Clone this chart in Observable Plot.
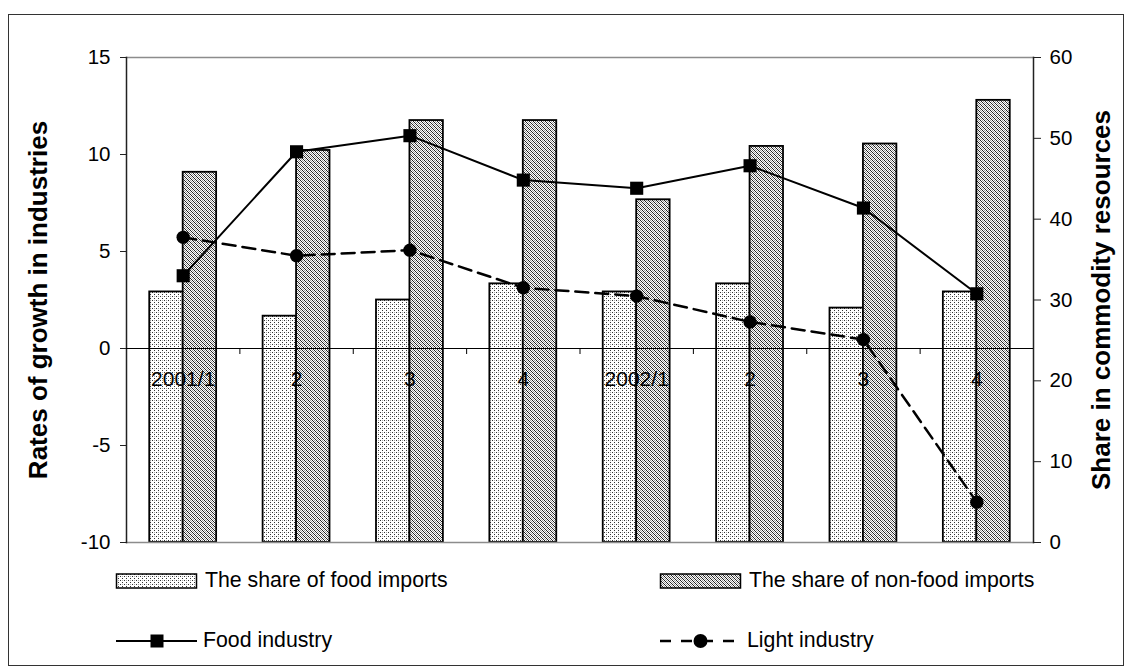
<!DOCTYPE html>
<html>
<head>
<meta charset="utf-8">
<script src="https://cdn.jsdelivr.net/npm/d3@7"></script>
<script src="https://cdn.jsdelivr.net/npm/@observablehq/plot@0.6"></script>
<style>
  body { margin: 0; background: #fff; font-family: "Liberation Sans", Arial, sans-serif; }
  #chart { position: relative; width: 1131px; height: 671px; overflow: hidden; }
  #chart svg { display: block; }
  #border { position: absolute; left: 8px; top: 14px; width: 1116px; height: 652px;
            box-sizing: border-box; border: 1.5px solid #333; pointer-events: none; }
</style>
</head>
<body>
<div id="chart"><div id="border"></div></div>
<script>
// Quarterly data, 2001–2002
const periodKeys = ["2001-Q1", "2001-Q2", "2001-Q3", "2001-Q4", "2002-Q1", "2002-Q2", "2002-Q3", "2002-Q4"];
const periodLabels = ["2001/1", "2", "3", "4", "2002/1", "2", "3", "4"];

// Share in commodity resources, % (right axis)
const foodImportShare = [31.0, 28.0, 30.0, 32.0, 31.0, 32.0, 29.0, 31.0];
const nonFoodImportShare = [45.8, 48.5, 52.2, 52.2, 42.4, 49.0, 49.3, 54.7];

// Rates of growth in industries, % (left axis)
const foodIndustryGrowth = [3.75, 10.14, 10.97, 8.68, 8.26, 9.42, 7.24, 2.82];
const lightIndustryGrowth = [5.73, 4.78, 5.07, 3.13, 2.70, 1.37, 0.46, -7.92];

// Axis ticks
const growthTicks = [-10, -5, 0, 5, 10, 15];
const shareTicks = [0, 10, 20, 30, 40, 50, 60];

const seriesNames = {
  food: "The share of food imports",
  nonFood: "The share of non-food imports",
  foodIndustry: "Food industry",
  lightIndustry: "Light industry"
};
const leftTitle = "Rates of growth in industries";
const rightTitle = "Share in commodity resources";

const rows = periodKeys.map((period, i) => ({
  period,
  label: periodLabels[i],
  food: foodImportShare[i],
  nonFood: nonFoodImportShare[i],
  foodGrowth: foodIndustryGrowth[i],
  lightGrowth: lightIndustryGrowth[i]
}));

// The share axis (0–60) is laid over the growth axis (-10–15)
const shareToGrowth = d3.scaleLinear([0, 60], [-10, 15]);

const width = 1131, height = 560;
const marginLeft = 126, marginRight = 98, marginTop = 57, marginBottom = 18;
const paddingInner = 0.41, paddingOuter = 0.205;
const step = (width - marginLeft - marginRight) / periodKeys.length;
const halfBar = step * (1 - paddingInner) / 2;

function addPatterns(svg, prefix) {
  const defs = svg.insert("defs", ":first-child");
  const dots = defs.append("pattern")
    .attr("id", prefix + "food-dots").attr("patternUnits", "userSpaceOnUse")
    .attr("width", 4).attr("height", 4);
  dots.append("rect").attr("width", 4).attr("height", 4).attr("fill", "#fff");
  for (const [x, y, c] of [[0, 0, "#333"], [2, 2, "#333"], [2, 0, "#aaa"]]) {
    dots.append("rect").attr("x", x).attr("y", y).attr("width", 1).attr("height", 1).attr("fill", c);
  }
  const hatch = defs.append("pattern")
    .attr("id", prefix + "nonfood-hatch").attr("patternUnits", "userSpaceOnUse")
    .attr("width", 4).attr("height", 4);
  hatch.append("rect").attr("width", 4).attr("height", 4).attr("fill", "#fff");
  for (let k = 0; k < 4; k++) {
    hatch.append("rect").attr("x", k).attr("y", k).attr("width", 1).attr("height", 1).attr("fill", "#222");
    hatch.append("rect").attr("x", (k + 2) % 4).attr("y", k).attr("width", 1).attr("height", 1).attr("fill", "#999");
  }
}

// Plain hyphen-minus for negative tick labels
const fmt = d => String(d);

const chart = Plot.plot({
  width, height, marginLeft, marginRight, marginTop, marginBottom,
  style: { fontFamily: "'Liberation Sans', Arial, sans-serif", fontSize: "20px", color: "#000", background: "transparent" },
  x: { domain: periodKeys, paddingInner, paddingOuter, round: false, axis: null },
  y: { domain: [-10, 15], axis: null },
  marks: [
    // bars (share, right axis)
    Plot.barY(rows, {
      x: "period", y1: () => shareToGrowth(0), y2: d => shareToGrowth(d.food),
      insetLeft: 0, insetRight: halfBar,
      fill: "url(#food-dots)", stroke: "#000", strokeWidth: 1.8
    }),
    Plot.barY(rows, {
      x: "period", y1: () => shareToGrowth(0), y2: d => shareToGrowth(d.nonFood),
      insetLeft: halfBar, insetRight: 0,
      fill: "url(#nonfood-hatch)", stroke: "#000", strokeWidth: 1.8
    }),
    // plot area border and axis lines
    Plot.frame({ anchor: "top", stroke: "#8c8c8c", strokeWidth: 1.5 }),
    Plot.frame({ anchor: "bottom", stroke: "#8c8c8c", strokeWidth: 1.5 }),
    Plot.frame({ anchor: "left", stroke: "#222", strokeWidth: 1.5 }),
    Plot.frame({ anchor: "right", stroke: "#222", strokeWidth: 1.5 }),
    // category axis along zero
    Plot.ruleY([0], { stroke: "#000", strokeWidth: 1.2 }),
    Plot.ruleX(rows.slice(1), {
      x: "period", y1: () => 0, y2: () => 0, dx: -step / 2,
      insetTop: 0, insetBottom: -6, stroke: "#000", strokeWidth: 1
    }),
    Plot.text(rows, { x: "period", y: () => 0, text: "label", dy: 31, fontSize: 21 }),
    // growth lines (left axis)
    Plot.line(rows, { x: "period", y: "foodGrowth", stroke: "#000", strokeWidth: 2 }),
    Plot.line(rows, { x: "period", y: "lightGrowth", stroke: "#000", strokeWidth: 2.5, strokeDasharray: "13,7" }),
    Plot.dot(rows, { x: "period", y: "foodGrowth", symbol: "square", r: 7.4, fill: "#000", stroke: "none" }),
    Plot.dot(rows, { x: "period", y: "lightGrowth", symbol: "circle", r: 6.7, fill: "#000", stroke: "none" }),
    // axes
    Plot.axisY({ anchor: "left", ticks: growthTicks, tickFormat: fmt, tickSize: 6, tickPadding: 10, fontSize: 20.5, label: null, stroke: "#222" }),
    Plot.axisY({
      anchor: "right", ticks: shareTicks.map(shareToGrowth),
      tickFormat: d => fmt(Math.round(shareToGrowth.invert(d))),
      tickSize: 7, tickPadding: 9, fontSize: 20.5, label: null, stroke: "#222"
    }),
    // axis titles
    Plot.text([leftTitle], {
      frameAnchor: "left", text: d => d, textAnchor: "middle", lineAnchor: "middle",
      rotate: -90, dx: -88, fontSize: 26, fontWeight: "bold"
    }),
    Plot.text([rightTitle], {
      frameAnchor: "right", text: d => d, textAnchor: "middle", lineAnchor: "middle",
      rotate: -90, dx: 68, fontSize: 26, fontWeight: "bold"
    })
  ]
});

addPatterns(d3.select(chart), "");
document.getElementById("chart").appendChild(chart);

// Legend below the plot
const legend = d3.select("#chart").append("svg")
  .attr("width", width).attr("height", 111)
  .style("font-family", "'Liberation Sans', Arial, sans-serif");
addPatterns(legend, "key-");

const keyFont = 21.3;
legend.append("rect").attr("x", 116.5).attr("y", 14).attr("width", 80).attr("height", 14)
  .attr("fill", "url(#key-food-dots)").attr("stroke", "#000").attr("stroke-width", 1.5);
legend.append("text").attr("x", 205).attr("y", 27).attr("font-size", keyFont).text(seriesNames.food);

legend.append("rect").attr("x", 660.5).attr("y", 14).attr("width", 80).attr("height", 14)
  .attr("fill", "url(#key-nonfood-hatch)").attr("stroke", "#000").attr("stroke-width", 1.5);
legend.append("text").attr("x", 749).attr("y", 27).attr("font-size", keyFont).text(seriesNames.nonFood);

legend.append("line").attr("x1", 116).attr("x2", 197).attr("y1", 81).attr("y2", 81)
  .attr("stroke", "#000").attr("stroke-width", 2);
legend.append("rect").attr("x", 150.5).attr("y", 74.5).attr("width", 13).attr("height", 13).attr("fill", "#000");
legend.append("text").attr("x", 203).attr("y", 87).attr("font-size", keyFont).text(seriesNames.foodIndustry);

legend.append("line").attr("x1", 660).attr("x2", 741).attr("y1", 81).attr("y2", 81)
  .attr("stroke", "#000").attr("stroke-width", 2.5).attr("stroke-dasharray", "11,10");
legend.append("circle").attr("cx", 700.5).attr("cy", 81).attr("r", 7).attr("fill", "#000");
legend.append("text").attr("x", 747).attr("y", 87).attr("font-size", keyFont).text(seriesNames.lightIndustry);
</script>
</body>
</html>
